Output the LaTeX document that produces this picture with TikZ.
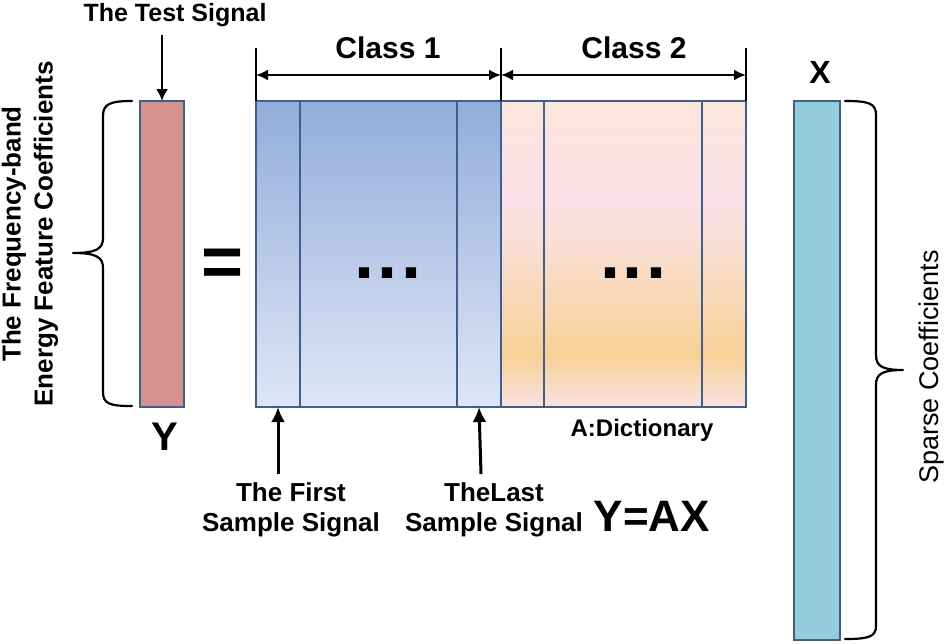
\documentclass[tikz,border=0pt]{standalone}
\usepackage{fontspec}
\setmainfont{Liberation Sans}
\usetikzlibrary{arrows.meta}
\definecolor{bord}{HTML}{3C6190}
\definecolor{ycol}{HTML}{D4918F}
\definecolor{xcol}{HTML}{93CDDC}
\definecolor{c1top}{HTML}{93ADDA}
\definecolor{c1bot}{HTML}{DEE6F6}
\definecolor{c2bot}{HTML}{FBE2DE}
\definecolor{c2q}{HTML}{F9DCC6}
\definecolor{c2or}{HTML}{F8D196}
\definecolor{c2mid}{HTML}{F9D8B6}
\definecolor{c2pe}{HTML}{F9DED0}
\definecolor{c2pk}{HTML}{FAE0E8}
\definecolor{c2pk2}{HTML}{FBE3E3}
\definecolor{c2top}{HTML}{FCE6DA}
\pgfdeclareverticalshading{clone}{100bp}{color(0bp)=(c1bot); color(25bp)=(c1bot); color(75bp)=(c1top); color(100bp)=(c1top)}
\pgfdeclareverticalshading{cltwo}{100bp}{color(0bp)=(c2bot); color(25bp)=(c2bot); color(28bp)=(c2q); color(33.5bp)=(c2or); color(42.5bp)=(c2mid); color(50.7bp)=(c2pe); color(58.8bp)=(c2pk); color(67bp)=(c2pk2); color(75bp)=(c2top); color(100bp)=(c2top)}
\tikzset{
  colbox/.style={draw=bord, line width=2.2pt, minimum height=306, inner sep=0pt, outer sep=0pt},
  cone/.style={colbox, shading=clone},
  ctwo/.style={colbox, shading=cltwo},
  vbar/.style={draw=bord, line width=2.2pt, inner sep=0pt, outer sep=0pt},
  arr/.style={line width=2.2pt, -{Latex[length=12pt,width=12pt]}},
  bigarr/.style={line width=3pt, -{Latex[length=15pt,width=14pt]}},
  dimarr/.style={line width=2.2pt, {Latex[length=12pt,width=11pt]}-{Latex[length=12pt,width=11pt]}},
  tick/.style={line width=2.2pt},
  brace/.style={line width=2.2pt, line join=round, line cap=round},
  lab/.style={font=\fontsize{26}{30}\selectfont\bfseries, align=center, inner sep=0pt},
}
\begin{document}
\begin{tikzpicture}[x=1pt,y=-1pt]
\useasboundingbox (0,0) rectangle (950,643);
% Y vector
\node[vbar, fill=ycol, minimum width=44, minimum height=306] (Ybar) at (162,254) {};
% dictionary columns
\node[cone, minimum width=44] (c1a) at (278,254) {};
\node[cone, minimum width=157] (c1m) at (378.5,254) {};
\node[cone, minimum width=44] (c1b) at (479,254) {};
\node[ctwo, minimum width=43] (c2a) at (522.5,254) {};
\node[ctwo, minimum width=158] (c2m) at (623,254) {};
\node[ctwo, minimum width=44] (c2b) at (724,254) {};
% X vector
\node[vbar, fill=xcol, minimum width=46, minimum height=539] (Xbar) at (817,370.5) {};
% dots
\node[font=\fontsize{72}{72}\selectfont\bfseries, anchor=base, inner sep=0pt] (dots1) at (388,278) {.\kern3pt.\kern3pt.};
\node[font=\fontsize{72}{72}\selectfont\bfseries, anchor=base, inner sep=0pt] (dots2) at (633,278) {.\kern3pt.\kern3pt.};
% equals
\node[font=\fontsize{72}{72}\selectfont\bfseries, inner sep=0pt] (eq) at (223,268) {=};
% test signal
\node[font=\fontsize{25}{29}\selectfont\bfseries, inner sep=0pt] (ts) at (175,15) {The Test Signal};
\coordinate (tsa) at (162,35);
\draw[arr] (tsa) -- (Ybar.north);
% class dimension lines
\coordinate (t1) at (256,48);
\coordinate (t2) at (501,48);
\coordinate (t3) at (746,48);
\draw[tick] (t1) -- (c1a.north west);
\draw[tick] (t2) -- (c1b.north east);
\draw[tick] (t3) -- (c2b.north east);
\coordinate (d1) at (256,75);
\coordinate (d2) at (501,75);
\coordinate (d3) at (746,75);
\draw[dimarr] (d1) -- (d2);
\draw[dimarr] (d2) -- (d3);
\node[font=\fontsize{30}{34}\selectfont\bfseries, inner sep=0pt] (cl1) at (388,48) {Class 1};
\node[font=\fontsize{30}{34}\selectfont\bfseries, inner sep=0pt] (cl2) at (634,48) {Class 2};
% labels
\node[font=\fontsize{40}{44}\selectfont\bfseries, inner sep=0pt] (ylab) at (165,437) {Y};
\node[font=\fontsize{32}{36}\selectfont\bfseries, inner sep=0pt] (xlab) at (820,72) {X};
\node[font=\fontsize{24}{28}\selectfont\bfseries, inner sep=0pt] (dict) at (642,430) {A:Dictionary};
\node[font=\fontsize{44}{48}\selectfont\bfseries, inner sep=0pt] (eqn) at (652,516) {Y=AX};
\node[lab] (first) at (291,510) {The First\\Sample Signal};
\node[lab] (last) at (494,510) {TheLast\\Sample Signal};
\coordinate (fa) at (278,474);
\coordinate (la) at (481,474);
\draw[bigarr] (fa) -- (c1a.south);
\draw[bigarr] (la) -- (c1b.south);
% left brace and text
\draw[brace] (132,101) .. controls (110,101) and (103,104) .. (103,116) -- (103,238) .. controls (103,249) and (96,253) .. (73,253) .. controls (96,253) and (103,257) .. (103,268) -- (103,392) .. controls (103,404) and (110,406) .. (132,406);
\node[rotate=90, font=\fontsize{26}{32}\selectfont\bfseries, align=center, inner sep=0pt] (ylabtxt) at (30,234) {The Frequency-band\\Energy Feature Coefficients};
% right brace and text
\draw[brace] (845,101) .. controls (868,101) and (876,103) .. (876,115) -- (876,355) .. controls (876,366) and (882,370) .. (903,370) .. controls (882,370) and (876,374) .. (876,385) -- (876,626) .. controls (876,637) and (868,639) .. (845,639);
\node[rotate=90, font=\fontsize{27}{32}\selectfont, inner sep=0pt] (sparse) at (932,367) {Sparse Coefficients};
\end{tikzpicture}
\end{document}
